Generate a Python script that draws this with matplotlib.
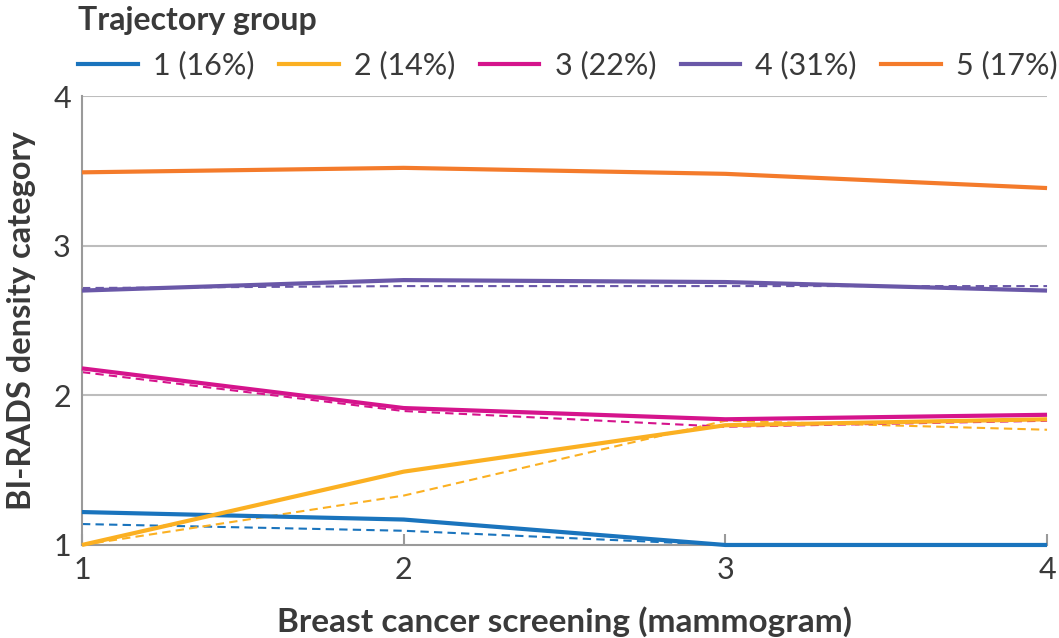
import matplotlib
matplotlib.use('Agg')
import matplotlib.pyplot as plt
from matplotlib.lines import Line2D

plt.rcParams['font.family'] = ['Lato', 'DejaVu Sans']

# Screening rounds
screening = [1, 2, 3, 4]

# Observed (solid) and predicted (dashed) BI-RADS density per trajectory group
groups = ['1 (16%)', '2 (14%)', '3 (22%)', '4 (31%)', '5 (17%)']
observed = [
    [1.22, 1.17, 1.00, 1.00],
    [1.00, 1.49, 1.80, 1.84],
    [2.18, 1.915, 1.84, 1.87],
    [2.70, 2.77, 2.757, 2.70],
    [3.49, 3.52, 3.48, 3.385],
]
predicted = [
    [1.14, 1.095, 1.00, 1.00],
    [1.00, 1.33, 1.83, 1.77],
    [2.155, 1.895, 1.79, 1.83],
    [2.717, 2.73, 2.73, 2.73],
    [3.49, 3.52, 3.48, 3.385],
]
colors = ['#1a74bd', '#fbb022', '#d5148c', '#6a58a8', '#f47b2b']

text_color = '#3a3a3a'
grid_color = '#bdbdbd'

fig = plt.figure(figsize=(10.59, 6.38), dpi=100)
ax = fig.add_axes([0.0774, 0.1458, 0.9113, 0.7037])

for y in [2, 3, 4]:
    ax.axhline(y, color=grid_color, lw=1.5, zorder=1)

for i in range(len(groups)):
    ax.plot(screening, predicted[i], color=colors[i], lw=1.5,
            dashes=(4, 2.5), zorder=2, clip_on=False)
for i in range(len(groups)):
    ax.plot(screening, observed[i], color=colors[i], lw=3,
            solid_capstyle='butt', zorder=3, clip_on=False)

ax.set_xlim(1, 4)
ax.set_ylim(1, 4)
ax.set_xticks(screening)
ax.set_yticks([1, 2, 3, 4])

for s in ['top', 'right']:
    ax.spines[s].set_visible(False)
for s in ['left', 'bottom']:
    ax.spines[s].set_color('#9a9a9a')
    ax.spines[s].set_linewidth(1.5)

ax.tick_params(axis='x', direction='in', length=8, width=1.5, color='#9a9a9a',
               labelsize=22, labelcolor=text_color, pad=8)
ax.tick_params(axis='y', length=0, labelsize=22, labelcolor=text_color, pad=8)

ax.set_xlabel('Breast cancer screening (mammogram)', fontsize=24,
              fontweight='bold', color=text_color, labelpad=16)
ax.set_ylabel('BI-RADS density category', fontsize=23.5,
              fontweight='bold', color=text_color, labelpad=12)

handles = [Line2D([0], [0], color=c, lw=3) for c in colors]
leg = fig.legend(handles, groups, loc='upper left', bbox_to_anchor=(0.048, 1.033),
                 ncol=5, frameon=False, fontsize=22, handlelength=1.95,
                 handletextpad=0.5, columnspacing=0.8,
                 title='Trajectory group', alignment='left',
                 title_fontproperties={'weight': 'bold', 'size': 23})
for t in leg.get_texts():
    t.set_color(text_color)
leg.get_title().set_color(text_color)

fig.savefig('out.png', dpi=100)
